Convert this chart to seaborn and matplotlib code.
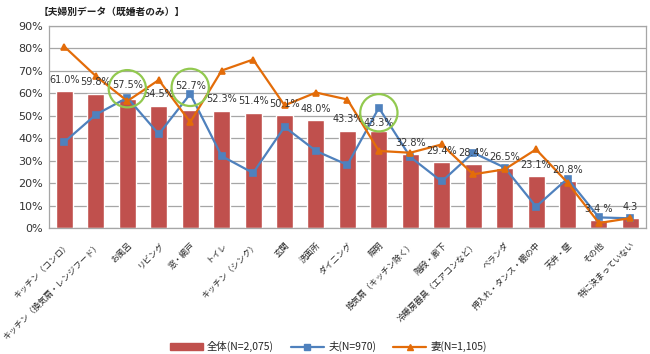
import numpy as np
import pandas as pd
import seaborn as sns
import matplotlib.pyplot as plt
from matplotlib.patches import Patch
from matplotlib.lines import Line2D

# data
categories = [
    "キッチン（コンロ）", "キッチン（換気扇・レンジフード）", "お風呂", "リビング",
    "窓・網戸", "トイレ", "キッチン（シンク）", "玄関", "洗面所", "ダイニング",
    "照明", "換気扇（キッチン除く）", "階段・廊下", "冷暖房器具（エアコンなど）",
    "ベランダ", "押入れ・タンス・棚の中", "天井・壁", "その他", "特に決まっていない",
]
total = [61.0, 59.8, 57.5, 54.5, 52.7, 52.3, 51.4, 50.1, 48.0, 43.3,
         43.3, 32.8, 29.4, 28.4, 26.5, 23.1, 20.8, 3.4, 4.3]
husband = [38.3, 50.5, 58.0, 41.8, 59.7, 32.0, 24.5, 45.0, 34.3, 28.1,
           53.5, 31.6, 20.7, 33.5, 26.9, 9.5, 22.0, 4.7, 4.3]
wife = [80.7, 67.6, 56.5, 65.9, 47.1, 70.1, 75.0, 54.6, 60.3, 57.2,
        34.3, 33.5, 37.2, 23.9, 26.1, 35.0, 20.2, 2.2, 4.4]
total_labels = ["61.0%", "59.8%", "57.5%", "54.5%", "52.7%", "52.3%", "51.4%",
                "50.1%", "48.0%", "43.3%", "43.3%", "32.8%", "29.4%", "28.4%",
                "26.5%", "23.1%", "20.8%", "3.4 %", "4.3"]
highlighted = ["お風呂", "窓・網戸", "照明"]

df = pd.DataFrame({"cat": categories, "total": total,
                   "husband": husband, "wife": wife})

RED = "#C0504D"
BLUE = "#4F81BD"
ORANGE = "#E36C09"
GREEN = "#92C94F"
GRID = "#A6A6A6"
JP = ["Noto Sans CJK JP", "DejaVu Sans"]
NUM = ["DejaVu Sans", "Noto Sans CJK JP"]

sns.set_style("white")
plt.rcParams["font.family"] = JP

fig, ax = plt.subplots(figsize=(6.5, 3.54), dpi=100)
fig.subplots_adjust(left=0.075, right=0.994, top=0.927, bottom=0.356)

sns.barplot(data=df, x="cat", y="total", color=RED, saturation=1,
            width=0.54, ax=ax, zorder=2)
sns.pointplot(data=df, x="cat", y="husband", color=BLUE, markers="s",
              markersize=4.5, linewidth=1.6, ax=ax, zorder=3)
sns.pointplot(data=df, x="cat", y="wife", color=ORANGE, markers="^",
              markersize=4.5, linewidth=1.6, ax=ax, zorder=4)

# value labels above the bars (a few sit higher / lower in the original)
special_off = {"お風呂": 6.1, "窓・網戸": 10.4, "照明": 3.4}
label_y = []
for i, (v, txt) in enumerate(zip(total, total_labels)):
    off = special_off.get(categories[i], 5.0)
    label_y.append(v + off)
    ax.text(i, v + off, txt, ha="center", va="center", fontsize=7,
            family=NUM, color="#333333", zorder=5)

# green highlight circles
for name in highlighted:
    i = categories.index(name)
    cy = (husband[i] + label_y[i]) / 2 + 1.2
    ax.scatter([i], [cy], s=720, facecolors="none", edgecolors=GREEN,
               linewidths=1.6, zorder=6)

ax.set_xlim(-0.5, len(categories) - 0.5)
ax.set_ylim(0, 90)
ax.set_yticks(range(0, 91, 10))
ax.set_yticklabels([f"{t}%" for t in range(0, 91, 10)], family=NUM,
                   fontsize=8, color="#333333")
ax.set_xticks(range(len(categories)))
ax.set_xticklabels(categories, rotation=45, ha="right", va="top",
                   rotation_mode="anchor", fontsize=6, color="#222222")
ax.tick_params(axis="x", length=0, pad=9)
ax.tick_params(axis="y", length=0, pad=4)
ax.set_xlabel("")
ax.set_ylabel("")
ax.grid(axis="y", color=GRID, linewidth=0.9)
ax.set_axisbelow(True)
for sp in ax.spines.values():
    sp.set_color(GRID)
    sp.set_linewidth(0.9)

fig.text(0.06, 0.966, "【夫婦別データ（既婚者のみ）】", fontsize=7,
         weight="bold", va="center", ha="left", color="#222222")

handles = [
    Patch(facecolor=RED, edgecolor=RED),
    Line2D([0], [0], color=BLUE, marker="s", markersize=4, linewidth=1.6),
    Line2D([0], [0], color=ORANGE, marker="^", markersize=4, linewidth=1.6),
]
labels = ["全体(N=2,075)", "夫(N=970)", "妻(N=1,105)"]
fig.legend(handles, labels, loc="lower center", bbox_to_anchor=(0.505, -0.022),
           ncol=3, frameon=False, fontsize=7.5, handlelength=3.2,
           handleheight=0.7, columnspacing=1.6, handletextpad=0.4)

fig.savefig("out.png", dpi=100)
